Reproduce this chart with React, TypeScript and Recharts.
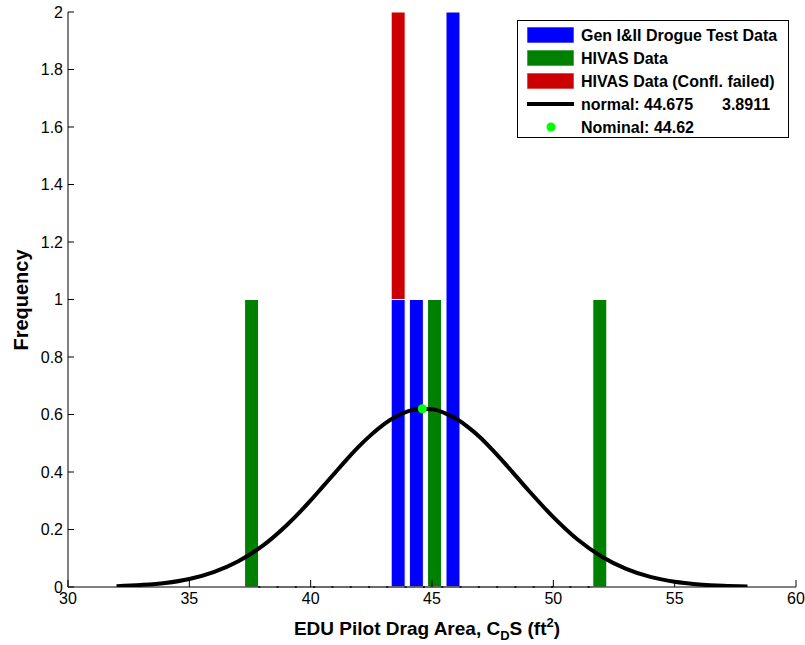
import React from 'react';
import { ComposedChart, Bar, Line, Scatter, XAxis, YAxis, ReferenceLine, Legend } from 'recharts';

// histogram bins (bin centres) and counts per data set
const BIN_CENTERS = [37.56, 43.6, 44.35, 45.1, 45.86, 51.91];
const GEN_COUNTS = [0, 1, 1, 0, 2, 0];
const HIVAS_COUNTS = [1, 0, 0, 1, 0, 1];
const FAILED_COUNTS = [0, 1, 0, 0, 0, 0];

// fitted normal curve
const CURVE_X = [32, 33, 34, 35, 36, 37, 38, 39, 40, 40.5, 41, 41.5, 42, 42.5, 43, 43.5, 44, 44.5, 45, 45.5, 46, 46.5, 47, 47.5, 48, 48.5, 49, 50, 51, 52, 53, 54, 55, 56, 57, 58];
const CURVE_Y = [0.003, 0.007, 0.014, 0.028, 0.052, 0.089, 0.142, 0.214, 0.301, 0.349, 0.397, 0.445, 0.49, 0.53, 0.565, 0.592, 0.611, 0.619, 0.618, 0.606, 0.585, 0.555, 0.519, 0.476, 0.43, 0.382, 0.334, 0.243, 0.165, 0.105, 0.063, 0.035, 0.018, 0.009, 0.004, 0.002];

const NOMINAL_X = [44.6];
const NOMINAL_Y = [0.62];

const X_TICKS = [30, 35, 40, 45, 50, 55, 60];
const Y_TICKS = [0, 0.2, 0.4, 0.6, 0.8, 1, 1.2, 1.4, 1.6, 1.8, 2];

const LEGEND_ITEMS = [
  { label: 'Gen I&II Drogue Test Data', kind: 'rect', color: '#0000ff' },
  { label: 'HIVAS Data', kind: 'rect', color: '#008000' },
  { label: 'HIVAS Data (Confl. failed)', kind: 'rect', color: '#cc0000' },
  { label: 'normal: 44.675', extra: '3.8911', kind: 'line', color: '#000000' },
  { label: 'Nominal: 44.62', kind: 'dot', color: '#00ff00' },
];

const barData = BIN_CENTERS.map((x, i) => ({
  x,
  gen: GEN_COUNTS[i],
  hivas: HIVAS_COUNTS[i],
  failed: FAILED_COUNTS[i],
}));
const curveData = CURVE_X.map((x, i) => ({ x, y: CURVE_Y[i] }));
const nominalData = NOMINAL_X.map((x, i) => ({ x, y: NOMINAL_Y[i] }));

const FONT = '"Liberation Sans", Arial, Helvetica, sans-serif';
const tickStyle = { fontSize: 16, fill: '#000', fontFamily: FONT };
const BAR_W = 14;

// bar drawn centred on its bin, fixed pixel width
const BinRect = (props: any) => {
  const { x, y, width, height, fill } = props;
  if (!height || height <= 0) return null;
  const cx = x + width / 2;
  return <rect x={cx - BAR_W / 2} y={y} width={BAR_W} height={height} fill={fill} stroke="#fff" strokeWidth={1} />;
};

const LegendBox = () => (
  <svg width={272} height={118} style={{ display: 'block' }}>
    <rect x={0.5} y={0.5} width={271} height={117} fill="#fff" stroke="#000" />
    {LEGEND_ITEMS.map((item, i) => {
      const cy = 15 + i * 23;
      return (
        <g key={item.label}>
          {item.kind === 'rect' && (
            <rect x={10} y={cy - 8} width={47} height={16} fill={item.color} stroke="#fff" strokeOpacity={0.6} />
          )}
          {item.kind === 'line' && <line x1={10} x2={57} y1={cy} y2={cy} stroke={item.color} strokeWidth={4} />}
          {item.kind === 'dot' && <circle cx={34} cy={cy} r={4.5} fill={item.color} />}
          <text x={64} y={cy} dominantBaseline="central" fontSize={16} fontWeight="bold" fontFamily={FONT} fill="#000">
            {item.label}
          </text>
          {item.extra && (
            <text x={205} y={cy} dominantBaseline="central" fontSize={16} fontWeight="bold" fontFamily={FONT} fill="#000">
              {item.extra}
            </text>
          )}
        </g>
      );
    })}
  </svg>
);

const renderXLabel = () => (
  <text x={427} y={635} textAnchor="middle" fontSize={19} fontWeight="bold" fontFamily={FONT} fill="#000">
    EDU Pilot Drag Area, C
    <tspan dy={5} fontSize={13}>D</tspan>
    <tspan dy={-5}>S (ft</tspan>
    <tspan dy={-8} fontSize={13}>2</tspan>
    <tspan dy={8}>)</tspan>
  </text>
);

const renderYLabel = () => (
  <text
    x={21}
    y={300}
    transform="rotate(-90, 21, 300)"
    textAnchor="middle"
    dominantBaseline="central"
    fontSize={20}
    fontWeight="bold"
    fontFamily={FONT}
    fill="#000"
  >
    Frequency
  </text>
);

export default function App() {
  return (
    <div style={{ position: 'absolute', left: 0, top: 0, background: '#fff', fontFamily: FONT }}>
      <ComposedChart width={805} height={645} data={barData} margin={{ top: 12, right: 9, bottom: 18, left: 8 }}>
        <XAxis
          dataKey="x"
          type="number"
          domain={[30, 60]}
          ticks={X_TICKS}
          allowDataOverflow
          height={40}
          tickSize={-7}
          tickMargin={13}
          stroke="#000"
          tick={tickStyle}
          label={renderXLabel}
        />
        <XAxis
          xAxisId="top"
          orientation="top"
          type="number"
          domain={[30, 60]}
          ticks={X_TICKS}
          height={0}
          tickSize={-7}
          tick={false}
          stroke="#000"
        />
        <YAxis
          type="number"
          domain={[0, 2]}
          ticks={Y_TICKS}
          allowDataOverflow
          width={60}
          tickSize={-6}
          tickMargin={11}
          stroke="#000"
          tick={tickStyle}
          label={renderYLabel}
        />
        <YAxis
          yAxisId="right"
          orientation="right"
          type="number"
          domain={[0, 2]}
          ticks={Y_TICKS}
          width={0}
          tickSize={-6}
          tick={false}
          stroke="#000"
        />
        <ReferenceLine segment={[{ x: 37.84, y: 0 }, { x: 51.62, y: 0 }]} stroke="#c8c8c8" strokeWidth={1.5} />
        <ReferenceLine segment={[{ x: 37.84, y: 0 }, { x: 51.62, y: 0 }]} stroke="#000" strokeWidth={1.5} strokeDasharray="2 16.3" />
        <Bar dataKey="gen" stackId="h" fill="#0000ff" shape={BinRect} isAnimationActive={false} />
        <Bar dataKey="hivas" stackId="h" fill="#008000" shape={BinRect} isAnimationActive={false} />
        <Bar dataKey="failed" stackId="h" fill="#cc0000" shape={BinRect} isAnimationActive={false} />
        <Line
          data={curveData}
          dataKey="y"
          type="monotone"
          stroke="#000"
          strokeWidth={4}
          dot={false}
          activeDot={false}
          isAnimationActive={false}
        />
        <Scatter data={nominalData} dataKey="y" fill="#00ff00" isAnimationActive={false} />
        <Legend
          layout="vertical"
          align="center"
          verticalAlign="middle"
          content={() => <LegendBox />}
          wrapperStyle={{ position: 'absolute', left: 517, top: 20, width: 272, height: 118 }}
        />
      </ComposedChart>
    </div>
  );
}
